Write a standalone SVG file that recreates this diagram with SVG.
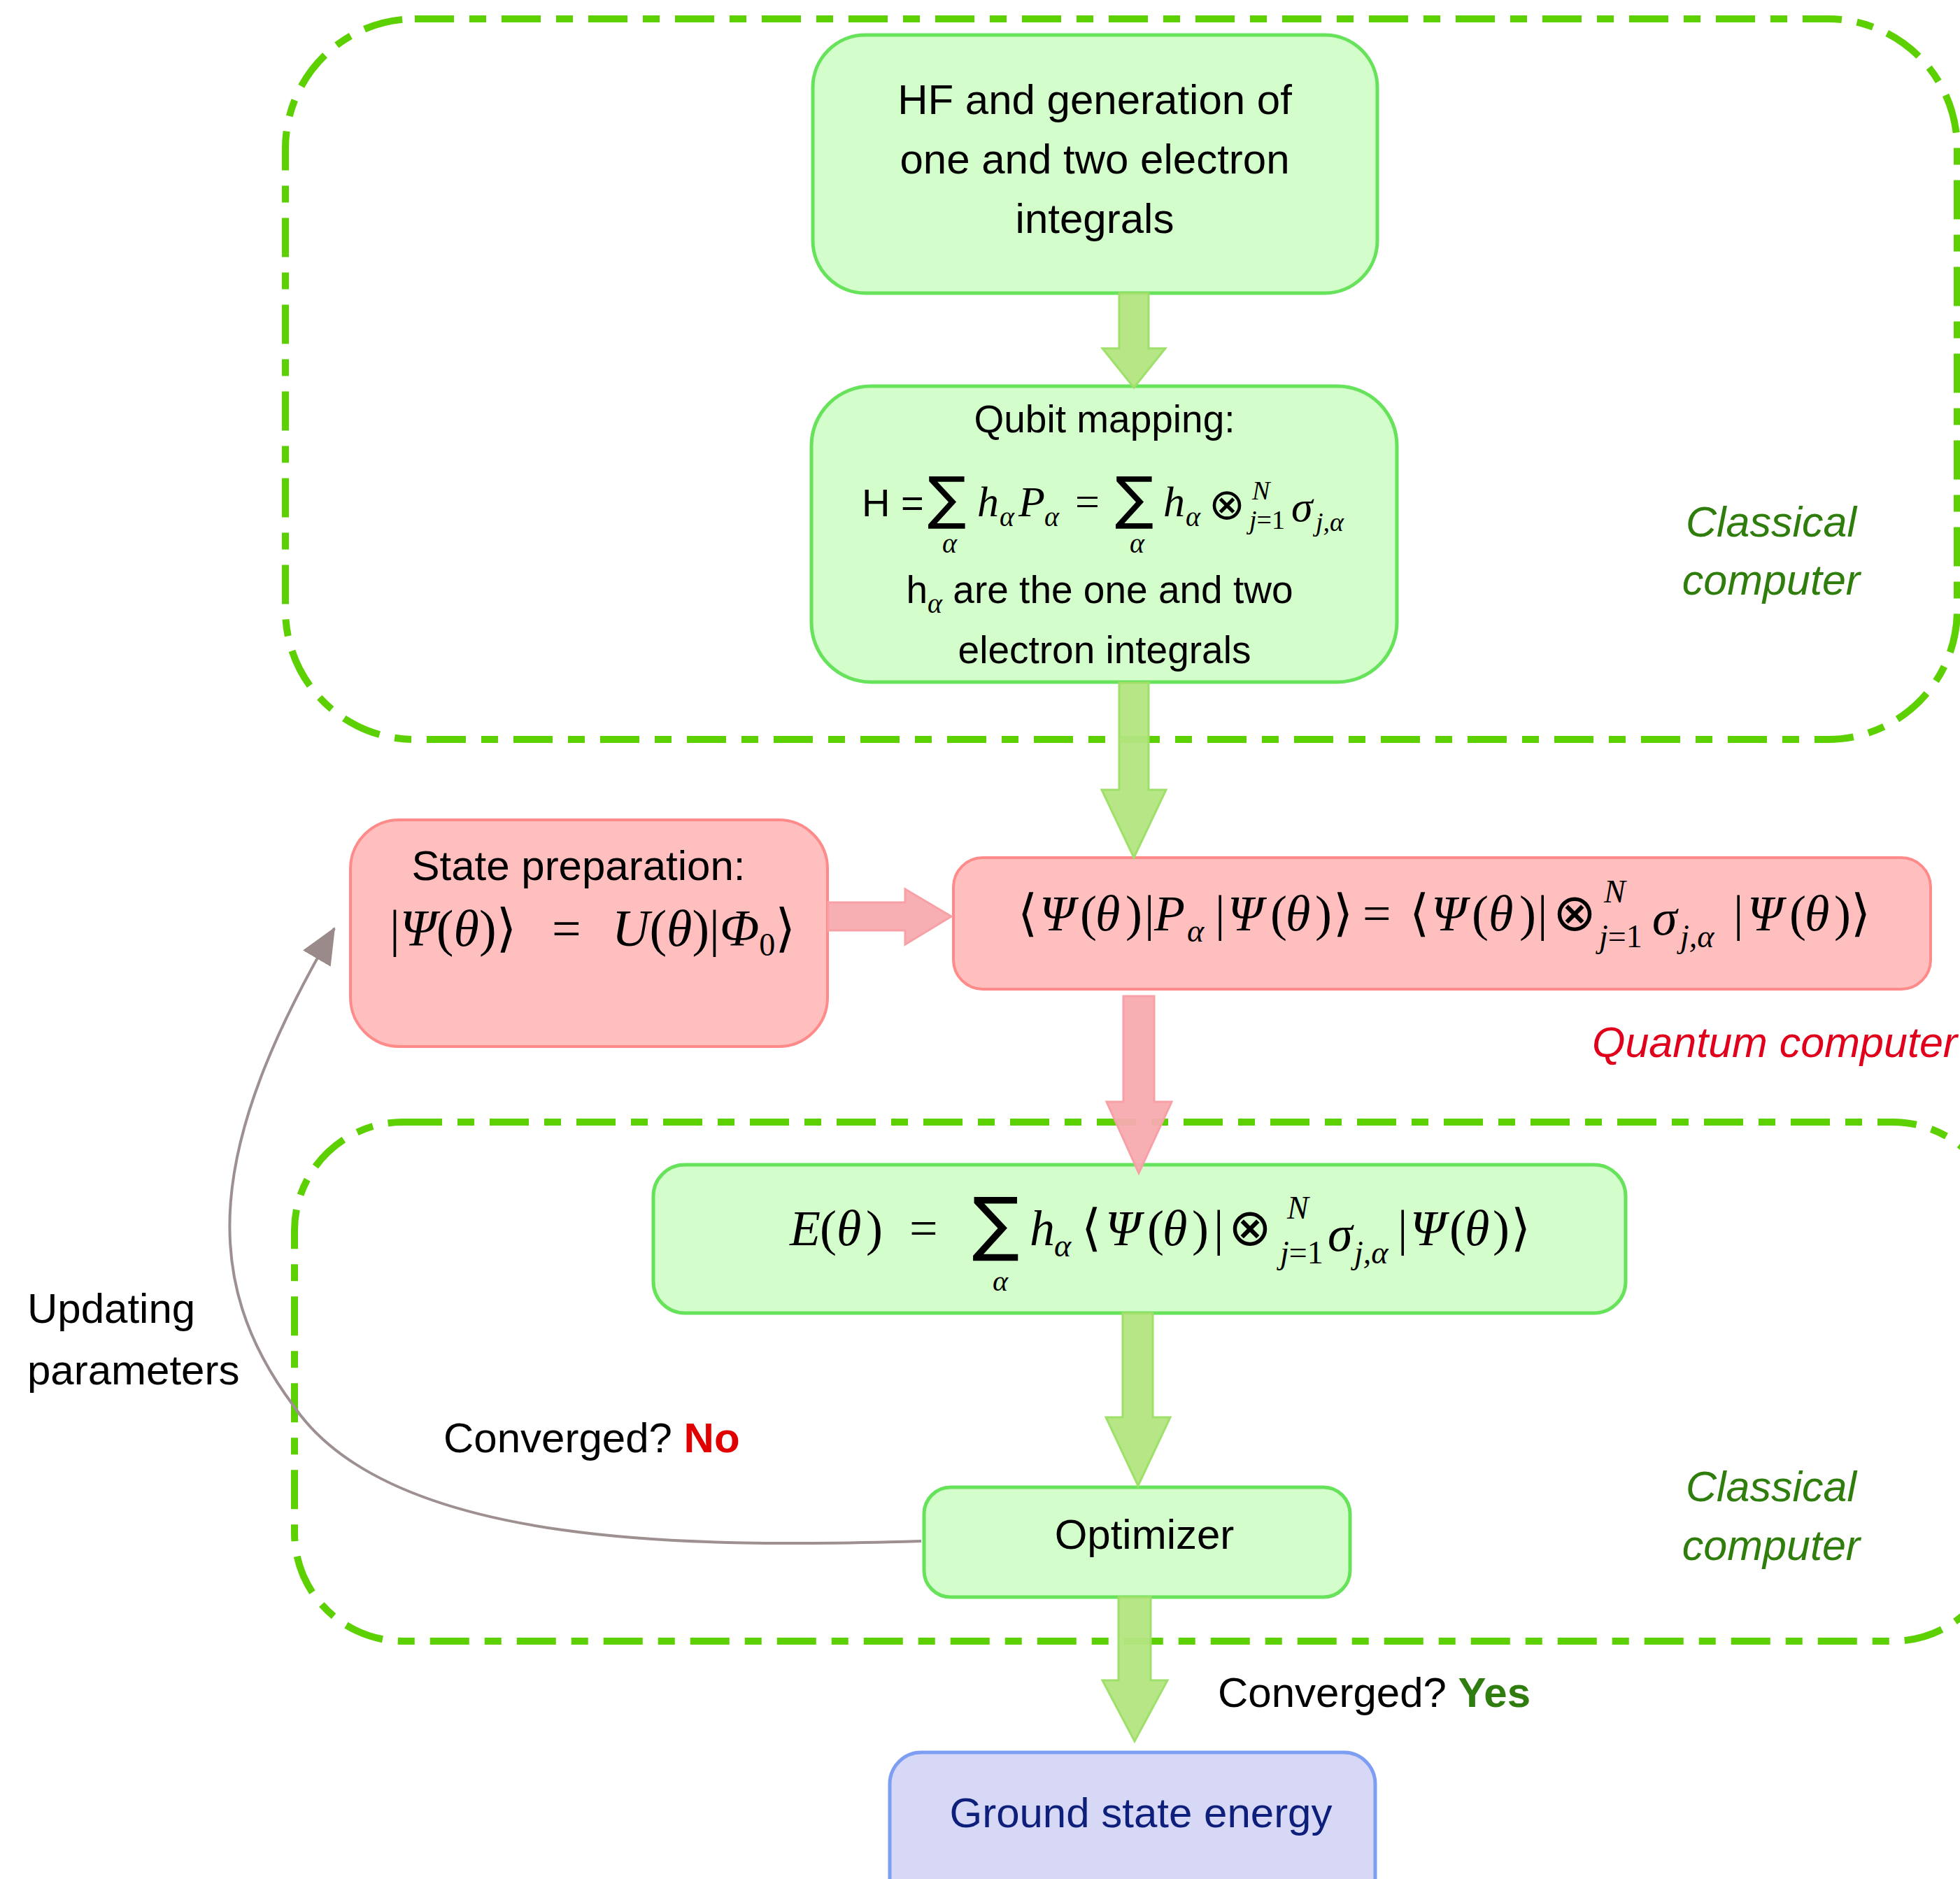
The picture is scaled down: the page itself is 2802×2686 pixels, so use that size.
<svg xmlns="http://www.w3.org/2000/svg" width="2802" height="2686" viewBox="0 0 2802 2686">
<style>
.bg{fill:#ffffff}
.dash{fill:none;stroke:#5cd000;stroke-width:10;stroke-dasharray:56 22 24 22}
.gn{fill:#d3fdcb;stroke:#66e35a;stroke-width:5}
.pk{fill:#ffbfbf;stroke:#ff8a8a;stroke-width:4}
.bl{fill:#d6d8f5;stroke:#7d9ef2;stroke-width:5}
.ga{fill:#b2e57f;stroke:#9fe06a;stroke-width:3;fill-opacity:0.95}
.pa{fill:#f8abb0;stroke:#f7a0a6;stroke-width:3;fill-opacity:0.95}
.sans{font-family:"Liberation Sans",Arial,sans-serif;font-size:60px;fill:#000}
.q{font-size:55px}
.c{text-anchor:middle}
.lab{font-family:"Liberation Sans",Arial,sans-serif;font-size:61px;font-style:italic}
.grn{fill:#2f7d0c}
.red{fill:#e0001b}
.math{font-family:"Liberation Serif","DejaVu Serif",serif;font-size:72px;fill:#000}
.mi{font-style:italic}
.dv{font-family:"DejaVu Sans",sans-serif;font-style:normal}
.sub{font-size:46px}
.sm{font-size:40px}
.sum{font-family:"DejaVu Sans",sans-serif;font-style:normal}
.curve{fill:none;stroke:#9e9090;stroke-width:4}
</style>
<defs>
<marker id="gh" viewBox="0 0 52 46" markerUnits="userSpaceOnUse" markerWidth="52" markerHeight="46" refX="50" refY="23" orient="auto">
<path d="M0,0 L52,23 L0,46 Z" fill="#9b8a8a"/>
</marker>
</defs>
<rect class="bg" x="0" y="0" width="2802" height="2686"/>

<g id="containers">
<rect id="classical-top" class="dash" x="408" y="27" width="2390" height="1030" rx="185"/>
<rect id="classical-bottom" class="dash" x="421" y="1604" width="2440" height="742" rx="155"/>
<text class="lab grn c" x="2532" y="767">Classical</text>
<text class="lab grn c" x="2532" y="850">computer</text>
<text class="lab grn c" x="2532" y="2146">Classical</text>
<text class="lab grn c" x="2532" y="2230">computer</text>
<text class="lab red" x="2276" y="1511">Quantum computer</text>
</g>

<g id="node-hf">
<rect class="gn" x="1162" y="50" width="807" height="369" rx="75"/>
<text class="sans c" x="1565" y="163">HF and generation of</text>
<text class="sans c" x="1565" y="248">one and two electron</text>
<text class="sans c" x="1565" y="333">integrals</text>
</g>

<g id="node-qubit">
<rect class="gn" x="1160" y="552" width="837" height="423" rx="85"/>
<text class="sans q c" x="1579" y="618">Qubit mapping:</text>
<text class="math" style="font-size:62px" y="738"><tspan class="sans" style="font-size:56px" x="1232">H =</tspan><tspan class="sum" style="font-size:82px" x="1326" y="740">∑</tspan><tspan class="mi sm" x="1347" y="790">α</tspan><tspan class="mi" x="1397" y="738">h</tspan><tspan class="mi sm" x="1429" y="752">α</tspan><tspan class="mi" x="1456" y="738">P</tspan><tspan class="mi sm" x="1493" y="752">α</tspan><tspan x="1537" y="738">=</tspan><tspan class="sum" style="font-size:82px" x="1594" y="740">∑</tspan><tspan class="mi sm" x="1615" y="790">α</tspan><tspan class="mi" x="1663" y="738">h</tspan><tspan class="mi sm" x="1695" y="752">α</tspan><tspan class="dv" style="font-size:62px" x="1728" y="742">⊗</tspan><tspan class="mi" style="font-size:38px" x="1790" y="714">N</tspan><tspan style="font-size:38px" x="1786" y="756"><tspan class="mi">j</tspan>=1</tspan><tspan class="mi" x="1846" y="745">σ</tspan><tspan class="mi" style="font-size:38px" x="1881" y="759">j,α</tspan></text>
<text class="sans q c" x="1572" y="862">h<tspan class="math mi sm" dy="14">α</tspan><tspan dy="-14"> are the one and two</tspan></text>
<text class="sans q c" x="1579" y="948">electron integrals</text>
</g>

<g id="node-state">
<rect class="pk" x="501" y="1172" width="682" height="324" rx="70"/>
<text class="sans c" x="827" y="1258">State preparation:</text>
<text class="math" style="font-size:74px" y="1352"><tspan x="557">|</tspan><tspan class="mi">Ψ</tspan>(<tspan class="mi">θ</tspan>)<tspan class="dv">⟩</tspan><tspan x="789">=</tspan><tspan class="mi" x="875">U</tspan>(<tspan class="mi">θ</tspan>)|<tspan class="mi">Φ</tspan><tspan class="sub" dy="14">0</tspan><tspan class="dv" dy="-14">⟩</tspan></text>
</g>

<g id="node-measure">
<rect class="pk" x="1363" y="1226" width="1397" height="188" rx="42"/>
<text class="math" y="1330"><tspan class="dv" x="1455">⟨</tspan><tspan class="mi" x="1486">Ψ</tspan><tspan x="1544">(</tspan><tspan class="mi" x="1566">θ</tspan><tspan x="1609">)</tspan><tspan x="1636">|</tspan><tspan class="mi" x="1650">P</tspan><tspan class="mi sub" x="1697" y="1346">α</tspan><tspan x="1737" y="1330">|</tspan><tspan class="mi" x="1755">Ψ</tspan><tspan x="1816">(</tspan><tspan class="mi" x="1838">θ</tspan><tspan x="1880">)</tspan><tspan class="dv" x="1906">⟩</tspan><tspan x="1948">=</tspan><tspan class="dv" x="2015">⟨</tspan><tspan class="mi" x="2046">Ψ</tspan><tspan x="2104">(</tspan><tspan class="mi" x="2128">θ</tspan><tspan x="2172">)</tspan><tspan x="2198">|</tspan><tspan class="dv" style="font-size:74px" x="2220">⊗</tspan><tspan class="mi sub" x="2293" y="1290">N</tspan><tspan class="sub" x="2286" y="1354"><tspan class="mi">j</tspan>=1</tspan><tspan class="mi" x="2362" y="1336">σ</tspan><tspan class="mi sub" x="2402" y="1354">j,α</tspan><tspan x="2478" y="1330">|</tspan><tspan class="mi" x="2498">Ψ</tspan><tspan x="2558">(</tspan><tspan class="mi" x="2580">θ</tspan><tspan x="2622">)</tspan><tspan class="dv" x="2646">⟩</tspan></text>
</g>

<g id="node-energy">
<rect class="gn" x="934" y="1665" width="1390" height="212" rx="45"/>
<text class="math" y="1780"><tspan class="mi" x="1129">E</tspan><tspan x="1172">(</tspan><tspan class="mi" x="1196">θ</tspan><tspan x="1238">)</tspan><tspan x="1300">=</tspan><tspan class="sum" style="font-size:100px" x="1390" y="1783">∑</tspan><tspan class="mi" style="font-size:42px" x="1419" y="1845">α</tspan><tspan class="mi" x="1472" y="1780">h</tspan><tspan class="mi sub" x="1507" y="1796">α</tspan><tspan class="dv" x="1546" y="1780">⟨</tspan><tspan class="mi" x="1580">Ψ</tspan><tspan x="1640">(</tspan><tspan class="mi" x="1662">θ</tspan><tspan x="1704">)</tspan><tspan x="1735">|</tspan><tspan class="dv" style="font-size:74px" x="1756">⊗</tspan><tspan class="mi sub" x="1840" y="1742">N</tspan><tspan class="sub" x="1830" y="1806"><tspan class="mi">j</tspan>=1</tspan><tspan class="mi" x="1898" y="1788">σ</tspan><tspan class="mi sub" x="1936" y="1806">j,α</tspan><tspan x="1998" y="1780">|</tspan><tspan class="mi" x="2016">Ψ</tspan><tspan x="2072">(</tspan><tspan class="mi" x="2094">θ</tspan><tspan x="2134">)</tspan><tspan class="dv" x="2160">⟩</tspan></text>
</g>

<g id="node-optimizer">
<rect class="gn" x="1321" y="2126" width="609" height="157" rx="38"/>
<text class="sans c" x="1636" y="2214">Optimizer</text>
</g>

<g id="node-ground">
<rect class="bl" x="1272" y="2505" width="694" height="230" rx="45"/>
<text class="sans c" x="1631" y="2612" style="fill:#0d1f7a">Ground state energy</text>
</g>

<g id="connectors">
<path class="ga" d="M1600,419 L1642,419 L1642,498 L1666,498 L1621,554 L1576,498 L1600,498 Z"/>
<path class="ga" d="M1600,976 L1642,976 L1642,1129 L1667,1129 L1621,1226 L1575,1129 L1600,1129 Z"/>
<path class="pa" d="M1184,1290 L1294,1290 L1294,1271 L1360,1310 L1294,1350 L1294,1330 L1184,1330 Z"/>
<path class="pa" d="M1606,1424 L1650,1424 L1650,1575 L1675,1575 L1628,1677 L1582,1575 L1606,1575 Z"/>
<path class="ga" d="M1605,1877 L1648,1877 L1648,2026 L1673,2026 L1627,2124 L1581,2026 L1605,2026 Z"/>
<path class="ga" d="M1599,2283 L1645,2283 L1645,2402 L1669,2402 L1622,2489 L1576,2402 L1599,2402 Z"/>
<path class="curve" d="M1317,2203 C1000,2212 560,2215 420,2010 C285,1830 295,1640 478,1327" marker-end="url(#gh)"/>
<text class="sans" x="634" y="2076">Converged? <tspan style="font-weight:bold;fill:#e00000">No</tspan></text>
<text class="sans" x="1741" y="2440">Converged? <tspan style="font-weight:bold;fill:#2e7d0e">Yes</tspan></text>
<text class="sans" x="39" y="1891">Updating</text>
<text class="sans" x="39" y="1979">parameters</text>
</g>
</svg>
